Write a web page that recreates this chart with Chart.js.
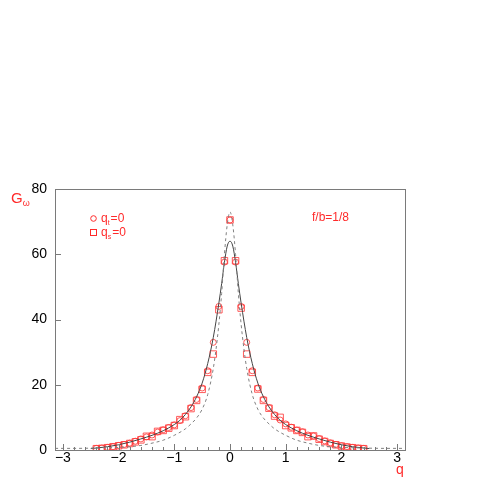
<!DOCTYPE html>
<html>
<head>
<meta charset="utf-8">
<script src="https://cdn.jsdelivr.net/npm/chart.js@4.4.1/dist/chart.umd.min.js"></script>
<style>
  html, body { margin: 0; padding: 0; background: #ffffff; }
  #wrap { width: 485px; height: 485px; }
</style>
</head>
<body>
<div id="wrap"><canvas id="c" width="485" height="485"></canvas></div>
<script>
// ---- data ----
const qPoints = [-2.4,-2.3,-2.2,-2.1,-2.0,-1.9,-1.8,-1.7,-1.6,-1.5,-1.4,-1.3,-1.2,-1.1,-1.0,-0.9,-0.8,-0.7,-0.6,-0.5,-0.4,-0.3,-0.2,-0.1,0,
                 0.1,0.2,0.3,0.4,0.5,0.6,0.7,0.8,0.9,1.0,1.1,1.2,1.3,1.4,1.5,1.6,1.7,1.8,1.9,2.0,2.1,2.2,2.3,2.4];
const circleValues = [0.5,0.6,0.8,1.0,1.4,1.7,2.1,2.7,3.4,4.0,4.6,5.5,6.2,6.9,7.7,9.0,10.5,13.0,15.5,19.0,24.3,33.0,44.0,57.6,70.5,
                      57.6,44.0,33.0,24.3,19.0,15.5,13.0,10.8,9.2,8.0,7.0,6.1,5.6,4.6,4.3,3.5,2.8,2.2,1.7,1.3,1.0,0.8,0.6,0.5];
const squareValues = [0.4,0.5,0.7,1.0,1.3,1.6,2.0,2.5,3.1,4.2,4.1,5.7,6.0,6.7,7.5,9.3,10.2,12.7,15.2,18.6,23.8,29.4,43.0,58.0,70.5,
                      58.0,43.5,29.4,23.8,18.7,15.2,12.8,10.4,10.0,7.5,6.8,6.0,5.4,4.1,4.3,3.3,2.6,2.0,1.6,1.2,0.9,0.7,0.5,0.4];

const qSolid = [-2.5,-2.4,-2.2,-2.0,-1.8,-1.6,-1.4,-1.2,-1.0,-0.9,-0.8,-0.7,-0.6,-0.5,-0.4,-0.3,-0.2,-0.15,-0.1,-0.05,0,
                0.05,0.1,0.15,0.2,0.3,0.4,0.5,0.6,0.7,0.8,0.9,1.0,1.2,1.4,1.6,1.8,2.0,2.2,2.4,2.5];
const solidValues = [0.45,0.6,1.0,1.6,2.4,3.4,4.5,5.9,7.8,9.1,10.9,13.2,16.3,20.5,26.5,34.5,45.0,51.0,57.5,62.5,64.0,
                     62.5,57.5,51.0,45.0,34.5,26.5,20.5,16.3,13.2,10.9,9.1,7.8,5.9,4.5,3.4,2.4,1.6,1.0,0.6,0.45];

const qDashed = [-3.14,-2.8,-2.4,-2.0,-1.8,-1.6,-1.4,-1.2,-1.0,-0.8,-0.7,-0.6,-0.5,-0.4,-0.3,-0.25,-0.2,-0.15,-0.1,-0.05,0,
                 0.05,0.1,0.15,0.2,0.25,0.3,0.4,0.5,0.6,0.7,0.8,1.0,1.2,1.4,1.6,1.8,2.0,2.4,2.8,3.14];
const dashedValues = [0.5,0.5,0.6,0.8,1.0,1.4,2.1,3.0,4.5,6.5,8.0,9.8,12.5,17.0,25.0,31.0,38.5,48.0,60.0,69.0,73.0,
                      69.0,60.0,48.0,38.5,31.0,25.0,17.0,12.5,9.8,8.0,6.5,4.5,3.0,2.1,1.4,1.0,0.8,0.6,0.5,0.5];

const xTickValues = [-3,-2,-1,0,1,2,3];
const xMinorTicks = [-3.0,-2.8,-2.6,-2.4,-2.2,-2.0,-1.8,-1.6,-1.4,-1.2,-1.0,-0.8,-0.6,-0.4,-0.2,0,0.2,0.4,0.6,0.8,1.0,1.2,1.4,1.6,1.8,2.0,2.2,2.4,2.6,2.8,3.0];
const yTickValues = [0,20,40,60,80];

const RED = '#ff2a2a';
const MARK = 'rgba(255,50,50,0.8)';
const FONT = "'Liberation Sans', 'DejaVu Sans', sans-serif";

function pts(xs, ys) { return xs.map((x, i) => ({ x: x, y: ys[i] })); }

function drawSub(ctx, base, sub, rest, x, y, size) {
  ctx.font = size + 'px ' + FONT;
  ctx.fillText(base, x, y);
  let w = ctx.measureText(base).width;
  ctx.font = Math.round(size * 0.6) + 'px ' + FONT;
  ctx.fillText(sub, x + w, y + size * 0.22);
  w += ctx.measureText(sub).width + 1;
  if (rest) {
    ctx.font = size + 'px ' + FONT;
    ctx.fillText(rest, x + w, y);
  }
}

const decor = {
  id: 'decor',
  afterDraw(chart) {
    const ctx = chart.ctx;
    const a = chart.chartArea;
    const xs = chart.scales.x, ys = chart.scales.y;
    ctx.save();
    // frame
    ctx.strokeStyle = '#7a7a7a';
    ctx.lineWidth = 1;
    ctx.strokeRect(Math.round(a.left) + 0.5, Math.round(a.top) + 0.5,
                   Math.round(a.right - a.left), Math.round(a.bottom - a.top));
    // inward ticks
    ctx.beginPath();
    xMinorTicks.forEach(v => {
      const px = Math.round(xs.getPixelForValue(v)) + 0.5;
      const major = xTickValues.includes(v);
      ctx.moveTo(px, a.bottom);
      ctx.lineTo(px, a.bottom - (major ? 6 : 3));
    });
    yTickValues.forEach(v => {
      const py = Math.round(ys.getPixelForValue(v)) + 0.5;
      ctx.moveTo(a.left, py);
      ctx.lineTo(a.left + 6, py);
    });
    ctx.stroke();
    // texts
    ctx.fillStyle = RED;
    ctx.strokeStyle = RED;
    ctx.textBaseline = 'alphabetic';
    ctx.textAlign = 'left';
    drawSub(ctx, 'G', 'ω', '', 11, 203, 15);
    ctx.font = '14px ' + FONT;
    ctx.fillText('q', 396, 474);
    ctx.font = '12px ' + FONT;
    ctx.fillText('f/b=1/8', 312, 221);
    // legend
    ctx.lineWidth = 1;
    ctx.beginPath();
    ctx.arc(93.5, 218.5, 2.8, 0, Math.PI * 2);
    ctx.stroke();
    ctx.strokeRect(90.5, 229.5, 6, 6);
    drawSub(ctx, 'q', 't', '=0', 101, 222, 12);
    drawSub(ctx, 'q', 's', '=0', 101, 236, 12);
    ctx.restore();
  }
};

new Chart(document.getElementById('c'), {
  type: 'scatter',
  data: {
    datasets: [
      { label: 'dashed', data: pts(qDashed, dashedValues), showLine: true, borderColor: '#808080',
        borderWidth: 1, borderDash: [3, 3], pointRadius: 0, cubicInterpolationMode: 'monotone', fill: false },
      { label: 'solid', data: pts(qSolid, solidValues), showLine: true, borderColor: '#444444',
        borderWidth: 1, pointRadius: 0, cubicInterpolationMode: 'monotone', fill: false },
      { label: 'circles', data: pts(qPoints, circleValues), showLine: false, pointStyle: 'circle',
        pointRadius: 3, borderColor: MARK, backgroundColor: 'rgba(0,0,0,0)', pointBorderWidth: 1 },
      { label: 'squares', data: pts(qPoints, squareValues), showLine: false, pointStyle: 'rect',
        pointRadius: 4.6, borderColor: MARK, backgroundColor: 'rgba(0,0,0,0)', pointBorderWidth: 1 }
    ]
  },
  options: {
    responsive: false,
    animation: false,
    devicePixelRatio: 1,
    layout: { padding: { left: 0, right: 80, top: 189, bottom: 0 } },
    plugins: { legend: { display: false }, tooltip: { enabled: false } },
    scales: {
      x: {
        type: 'linear', min: -Math.PI, max: Math.PI,
        afterBuildTicks(s) { s.ticks = xTickValues.map(v => ({ value: v })); },
        afterFit(s) { s.height = 35; },
        grid: { display: false, drawTicks: false },
        border: { display: false },
        ticks: { color: '#000', font: { size: 14, family: FONT }, padding: 0, maxRotation: 0,
                 callback: v => (v < 0 ? '\u2212' + Math.abs(v) : String(v)) }
      },
      y: {
        type: 'linear', min: 0, max: 80,
        afterBuildTicks(s) { s.ticks = yTickValues.map(v => ({ value: v })); },
        afterFit(s) { s.width = 55; },
        grid: { display: false, drawTicks: false },
        border: { display: false },
        ticks: { color: '#000', font: { size: 14, family: FONT }, padding: 8 }
      }
    }
  },
  plugins: [decor]
});
</script>
</body>
</html>
